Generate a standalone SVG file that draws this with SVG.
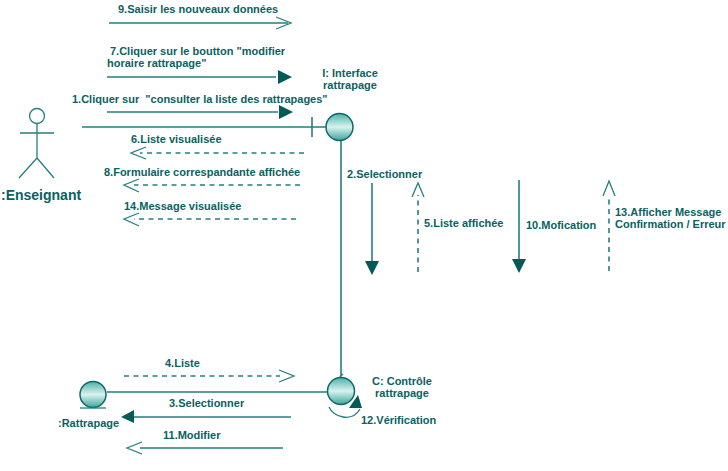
<svg xmlns="http://www.w3.org/2000/svg" width="728" height="471" viewBox="0 0 728 471">
<style>
text{font-family:"Liberation Sans",Arial,sans-serif;font-weight:bold;font-size:11px;fill:#0a6260}
.l{fill:none;stroke:#257f7d;stroke-width:1.6}
.d{fill:none;stroke:#257f7d;stroke-width:1.6;stroke-dasharray:5 4.5}
.o{fill:none;stroke:#257f7d;stroke-width:1.3}
.h{fill:#045a58;stroke:none}
.c{fill:url(#g);stroke:#0b6a68;stroke-width:1.5}
</style>
<defs>
<linearGradient id="g" x1="0" y1="0" x2="0" y2="1">
<stop offset="0" stop-color="#4fb0a8"/><stop offset="0.5" stop-color="#d8f2ee"/><stop offset="1" stop-color="#3fa59d"/>
</linearGradient>
</defs>
<rect width="728" height="471" fill="#fff"/>
<g id="connectors">
<path class="l" d="M82 127H326M312 117V137M341 141V376M107 392H328"/>
<path class="l" d="M109 23H288M107 77H276M107 112H278"/>
<path class="o" d="M276 17L291 23L276 29"/>
<path class="h" d="M278 70L292 77L278 84ZM279 105L293 112L279 119Z"/>
<path class="d" d="M304 153H140M300 185H134M296 219H134"/>
<path class="o" d="M146 147L131 153L146 159M139 179L124 185L139 192M139 213L124 219L139 226"/>
<path class="l" d="M372 183V262M519 180V260"/>
<path class="h" d="M365 261H379L372 275ZM512 259H526L519 273Z"/>
<path class="d" d="M418 272V195M609 271V195"/>
<path class="o" d="M412 197L418 183L424 197M603 196L609 181L615 196"/>
<path class="d" d="M124 376H280"/>
<path class="o" d="M279 370L294 376L279 382M343 374L339 378L343 382"/>
<path class="l" d="M132 417H291M140 448H283"/>
<path class="h" d="M134 410V423L121 417Z"/>
<path class="o" d="M142 442L127 448L142 454"/>
<path class="o" d="M329 407C333 417 352 423 360 409"/>
<path class="h" d="M349 408L358 395L362 408Z"/>
</g>
<g id="actor-enseignant">
<circle cx="37" cy="116" r="7.5" fill="#fff" stroke="#257f7d" stroke-width="1.3"/>
<path class="o" d="M37 123V158M20 133H54M37 158L19 178M37 158L54 178"/>
<text x="1" y="200" style="font-size:14px">:Enseignant</text>
</g>
<g id="node-interface">
<circle class="c" cx="339.5" cy="127" r="13.5"/>
<text x="350" y="77" text-anchor="middle">I: Interface</text>
<text x="350" y="89" text-anchor="middle">rattrapage</text>
</g>
<g id="node-controle">
<circle class="c" cx="341" cy="391" r="13.5"/>
<text x="402" y="385" text-anchor="middle">C: Contrôle</text>
<text x="402" y="397" text-anchor="middle">rattrapage</text>
</g>
<g id="node-rattrapage">
<circle class="c" cx="93" cy="394.5" r="13"/>
<path class="o" d="M80 408H106"/>
<text x="58" y="427">:Rattrapage</text>
</g>
<g id="labels">
<text x="118" y="13">9.Saisir les nouveaux données</text>
<text x="110" y="55">7.Cliquer sur le boutton "modifier</text>
<text x="107" y="67">horaire rattrapage"</text>
<text x="72" y="103" xml:space="preserve">1.Cliquer sur  "consulter la liste des rattrapages"</text>
<text x="131" y="143">6.Liste visualisée</text>
<text x="104" y="176">8.Formulaire correspandante affichée</text>
<text x="124" y="210">14.Message visualisée</text>
<text x="347" y="178">2.Selectionner</text>
<text x="424" y="227">5.Liste affichée</text>
<text x="526" y="229">10.Mofication</text>
<text x="615" y="216">13.Afficher Message</text>
<text x="615" y="228">Confirmation / Erreur</text>
<text x="165" y="367">4.Liste</text>
<text x="169" y="407">3.Selectionner</text>
<text x="163" y="439">11.Modifier</text>
<text x="361" y="424">12.Vérification</text>
</g>
</svg>
